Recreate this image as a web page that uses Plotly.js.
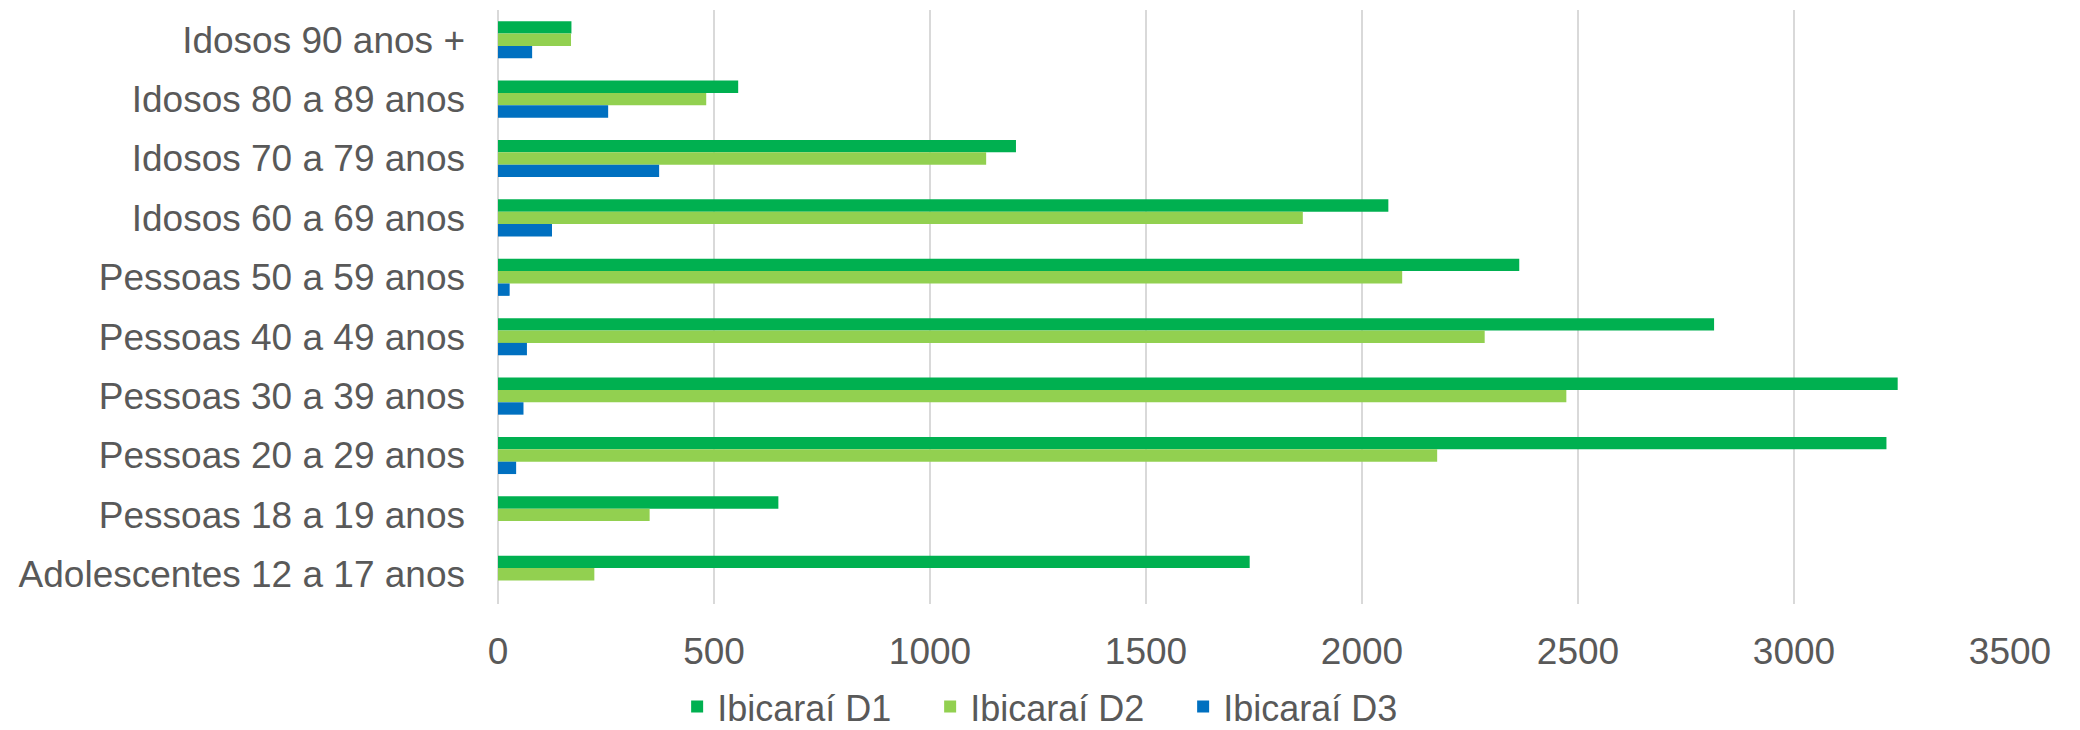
<!DOCTYPE html>
<html>
<head>
<meta charset="utf-8">
<script src="https://cdn.plot.ly/plotly-3.0.1.min.js"></script>
<style>html,body{margin:0;padding:0;background:#fff;}#chart{width:2080px;height:730px;}</style>
</head>
<body>
<div id="chart"></div>
<script>
const categories = [
  "Idosos 90 anos +",
  "Idosos 80 a 89 anos",
  "Idosos 70 a 79 anos",
  "Idosos 60 a 69 anos",
  "Pessoas 50 a 59 anos",
  "Pessoas 40 a 49 anos",
  "Pessoas 30 a 39 anos",
  "Pessoas 20 a 29 anos",
  "Pessoas 18 a 19 anos",
  "Adolescentes 12 a 17 anos"
];
const seriesNames = ["Ibicaraí D1", "Ibicaraí D2", "Ibicaraí D3"];
const d1 = [170, 556, 1199, 2061, 2364, 2815, 3240, 3214, 649, 1740];
const d2 = [169, 482, 1130, 1863, 2093, 2284, 2473, 2174, 351, 223];
const d3 = [79, 255, 373, 125, 27, 67, 59, 42, 0, 0];
const xTicks = [0, 500, 1000, 1500, 2000, 2500, 3000, 3500];
const colors = ["#00B050", "#92D050", "#0070C0"];

const font = "Liberation Sans, Arial, sans-serif";
const textColor = "#595959";
const values = [d1, d2, d3];
const traces = values.map((v, i) => ({
  type: "bar",
  orientation: "h",
  name: seriesNames[i],
  y: categories,
  x: v,
  marker: {color: colors[i], line: {width: 0}},
  hoverinfo: "x+name"
}));

const layout = {
  width: 2080,
  height: 730,
  margin: {l: 498, r: 70, t: 10, b: 126, pad: 0},
  paper_bgcolor: "#ffffff",
  plot_bgcolor: "#ffffff",
  font: {family: font, size: 37, color: textColor},
  barmode: "group",
  bargap: 0.375,
  bargroupgap: 0,
  xaxis: {
    range: [0, 3500],
    tickvals: xTicks,
    ticktext: xTicks.map(String),
    showgrid: true,
    gridcolor: "#D9D9D9",
    gridwidth: 1.5,
    zeroline: true,
    zerolinecolor: "#D9D9D9",
    zerolinewidth: 1.5,
    showline: false,
    ticks: "",
    ticklabelstandoff: 22,
    tickfont: {family: font, size: 37, color: textColor}
  },
  yaxis: {
    type: "category",
    autorange: "reversed",
    showgrid: false,
    zeroline: false,
    showline: false,
    ticks: "",
    ticklabelstandoff: 32,
    tickfont: {family: font, size: 37, color: textColor}
  },
  showlegend: true,
  legend: {
    orientation: "h",
    xref: "container",
    yref: "container",
    x: 0.508,
    xanchor: "center",
    y: 0.032,
    yanchor: "middle",
    font: {family: font, size: 36, color: textColor},
    itemwidth: 30,
    entrywidth: 208,
    entrywidthmode: "pixels",
    traceorder: "normal",
    bgcolor: "rgba(0,0,0,0)"
  }
};

Plotly.newPlot("chart", traces, layout, {displayModeBar: false, staticPlot: true});
</script>
</body>
</html>
